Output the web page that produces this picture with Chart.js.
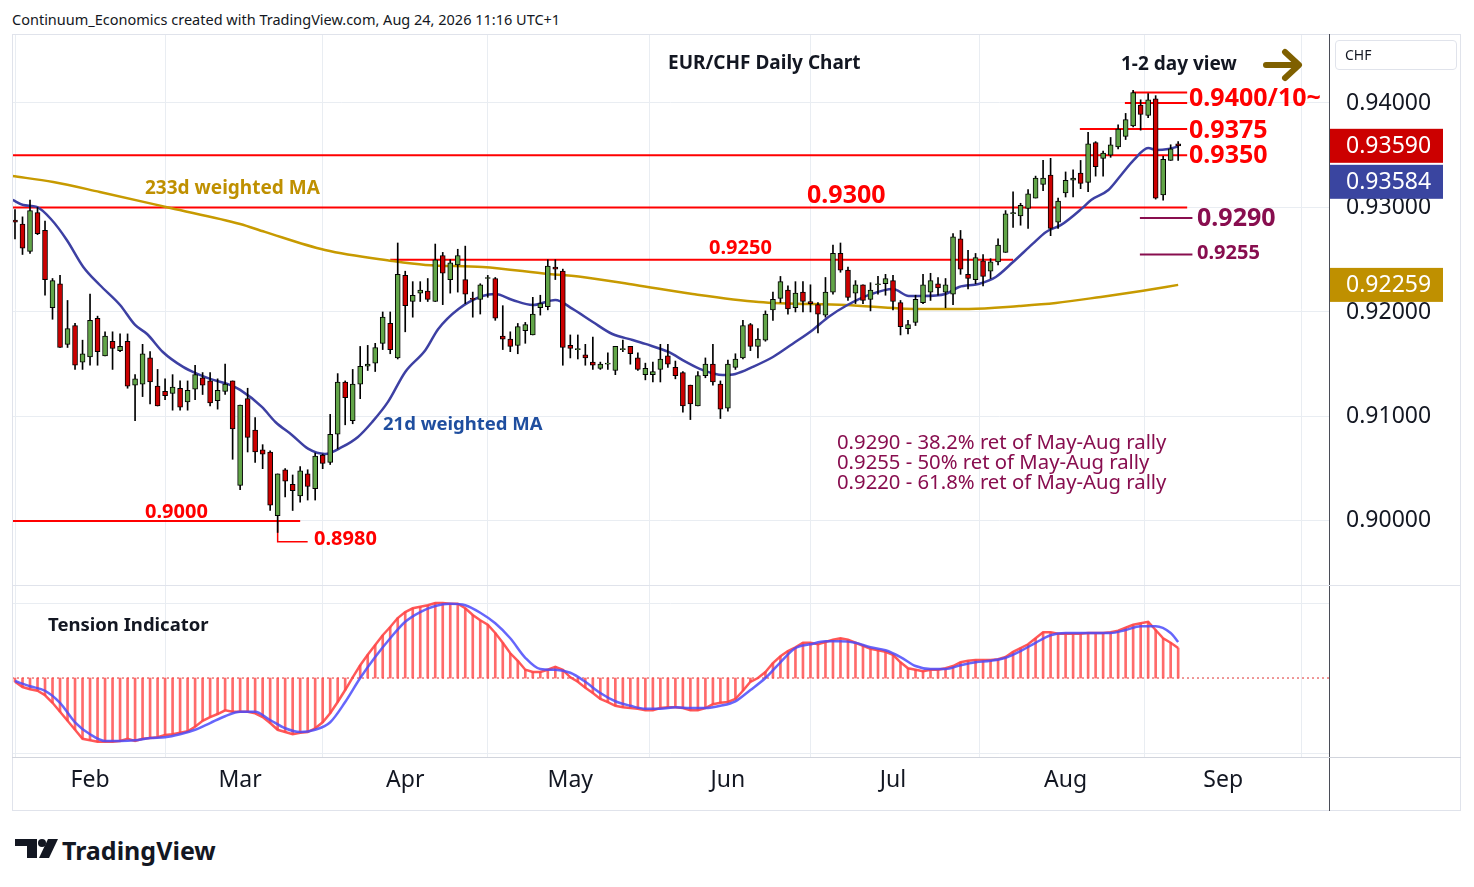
<!DOCTYPE html>
<html>
<head>
<meta charset="utf-8">
<script src="https://cdn.jsdelivr.net/npm/chart.js@4.4.1/dist/chart.umd.min.js"></script>
<style>
  body { margin: 0; background: #fff; width: 1474px; height: 887px; position: relative; overflow: hidden;
         font-family: "Noto Sans", sans-serif; color: #131722; }
  .t { position: absolute; white-space: nowrap; transform: translateY(-50%); line-height: 1; }
  .b { font-weight: bold; }
  .red { color: #f00; }
  .pur { color: #880e4f; }
  .ln { position: absolute; pointer-events: none; }
  #wrap1 { position: absolute; left: 12px; top: 34px; width: 1449px; height: 551px; }
  #wrap2 { position: absolute; left: 12px; top: 586px; width: 1449px; height: 224px; }
</style>
</head>
<body>
<div id="wrap1"><canvas id="price"></canvas></div>
<div id="wrap2"><canvas id="tension"></canvas></div>

<!-- frame -->
<div class="ln" style="left:12px;top:34px;width:1449px;height:777px;border:1px solid #e0e3eb;box-sizing:border-box"></div>
<div class="ln" style="left:1329px;top:34px;width:1px;height:777px;background:#4a4d57"></div>
<div class="ln" style="left:12px;top:585px;width:1449px;height:1px;background:#e0e3eb"></div>
<div class="ln" style="left:12px;top:757px;width:1449px;height:1px;background:#d1d4dc"></div>
<div class="ln" style="left:1335px;top:40px;width:122px;height:30px;border:1px solid #e0e3eb;border-radius:4px;box-sizing:border-box"></div>

<div class="t" style="left:12px;top:19px;font-size:14.5px">Continuum_Economics created with TradingView.com, Aug 24, 2026 11:16 UTC+1</div>
<div class="t" style="left:1345px;top:55px;font-size:14px">CHF</div>
<div class="t b" style="left:668px;top:62px;font-size:19px">EUR/CHF Daily Chart</div>
<div class="t b" style="left:1121px;top:63px;font-size:19px">1-2 day view</div>
<svg class="ln" style="left:1260px;top:45px" width="48" height="40">
  <path d="M6 20 H38 M25 7 L39 20 L25 33" stroke="#7f6000" stroke-width="6" fill="none" stroke-linecap="round" stroke-linejoin="round"/>
</svg>

<div class="t b red" style="left:1189px;top:96px;font-size:25px">0.9400/10~</div>
<div class="t b red" style="left:1189px;top:128px;font-size:25px">0.9375</div>
<div class="t b red" style="left:1189px;top:153px;font-size:25px">0.9350</div>
<div class="t b red" style="left:807px;top:193px;font-size:25px">0.9300</div>
<div class="t b pur" style="left:1197px;top:216px;font-size:25px">0.9290</div>
<div class="t b pur" style="left:1197px;top:252px;font-size:20px">0.9255</div>
<div class="t b red" style="left:709px;top:247px;font-size:20px">0.9250</div>
<div class="t b red" style="left:145px;top:511px;font-size:20px">0.9000</div>
<div class="t b red" style="left:314px;top:538px;font-size:20px">0.8980</div>
<div class="t b" style="left:145px;top:187px;font-size:19px;color:#bf9000">233d weighted MA</div>
<div class="t b" style="left:383px;top:423px;font-size:18.5px;color:#1f4e9f">21d weighted MA</div>
<div class="t pur" style="left:837px;top:441px;font-size:20.3px">0.9290 - 38.2% ret of May-Aug rally</div>
<div class="t pur" style="left:837px;top:461px;font-size:20.3px">0.9255 - 50% ret of May-Aug rally</div>
<div class="t pur" style="left:837px;top:481px;font-size:20.3px">0.9220 - 61.8% ret of May-Aug rally</div>
<div class="t b" style="left:48px;top:624px;font-size:18.5px">Tension Indicator</div>

<svg class="ln" style="left:0;top:830px" width="70" height="40">
  <path d="M15 9 H37 V28 H27 V16 H15 Z" fill="#131722"/>
  <circle cx="42" cy="13" r="4" fill="#131722"/>
  <path d="M48 9 H58 L49 28 H39 Z" fill="#131722"/>
</svg>
<div class="t b" style="left:62px;top:850px;font-size:25px">TradingView</div>

<script>
// trading-day index 0 = Jan 19 2026, last candle (155) = Aug 24 2026
const monthTicks = [10, 30, 52, 74, 95, 117, 140, 161];
const monthLabels = ['Feb', 'Mar', 'Apr', 'May', 'Jun', 'Jul', 'Aug', 'Sep'];
const priceTicks = [0.90, 0.91, 0.92, 0.93, 0.94];

const opens = [
  0.9288,0.9284,0.9258,0.9295,0.9278,0.9204,0.9227,0.9169,0.9187,0.9152,
  0.9157,0.9194,0.9158,0.9172,0.9163,0.9172,0.9130,0.9131,0.9156,0.9129,
  0.9124,0.9122,0.9127,0.9114,0.9126,0.9137,0.9134,0.9115,0.9124,0.9134,
  0.9034,0.9117,0.9087,0.9068,0.9066,0.9005,0.9049,0.9035,0.9024,0.9045,
  0.9031,0.9063,0.9056,0.9083,0.9133,0.9096,0.9131,0.9148,0.9151,0.9170,
  0.9189,0.9156,0.9235,0.9210,0.9218,0.9220,0.9210,0.9254,0.9231,0.9245,
  0.9231,0.9213,0.9212,0.9232,0.9232,0.9177,0.9174,0.9168,0.9182,0.9178,
  0.9204,0.9205,0.9243,0.9239,0.9168,0.9164,0.9159,0.9152,0.9146,0.9150,
  0.9144,0.9164,0.9167,0.9156,0.9140,0.9140,0.9145,0.9158,0.9147,0.9142,
  0.9130,0.9110,0.9139,0.9150,0.9131,0.9108,0.9147,0.9156,0.9188,0.9167,
  0.9173,0.9202,0.9213,0.9221,0.9204,0.9219,0.9210,0.9207,0.9197,0.9219,
  0.9256,0.9240,0.9218,0.9226,0.9212,0.9226,0.9227,0.9230,0.9209,0.9184,
  0.9190,0.9209,0.9219,0.9227,0.9219,0.9217,0.9270,0.9236,0.9231,0.9249,
  0.9239,0.9248,0.9257,0.9294,0.9292,0.9299,0.9309,0.9322,0.9331,0.9286,
  0.9314,0.9326,0.9333,0.9324,0.9362,0.9347,0.9350,0.9358,0.9368,0.9378,
  0.9398,0.9388,0.9404,0.9312,0.9345,0.9361
];
const highs = [
  0.9298,0.9291,0.9307,0.9300,0.9287,0.9232,0.9235,0.9211,0.9189,0.9173,
  0.9217,0.9196,0.9181,0.9181,0.9179,0.9179,0.9140,0.9169,0.9162,0.9145,
  0.9136,0.9140,0.9134,0.9134,0.9149,0.9142,0.9142,0.9136,0.9150,0.9134,
  0.9111,0.9127,0.9099,0.9073,0.9067,0.9045,0.9050,0.9044,0.9052,0.9049,
  0.9065,0.9064,0.9102,0.9141,0.9134,0.9145,0.9167,0.9168,0.9170,0.9200,
  0.9200,0.9266,0.9239,0.9229,0.9229,0.9232,0.9265,0.9257,0.9250,0.9260,
  0.9263,0.9219,0.9227,0.9235,0.9233,0.9206,0.9181,0.9189,0.9190,0.9214,
  0.9216,0.9250,0.9250,0.9241,0.9178,0.9178,0.9169,0.9176,0.9152,0.9161,
  0.9167,0.9173,0.9167,0.9161,0.9151,0.9152,0.9169,0.9169,0.9153,0.9143,
  0.9130,0.9143,0.9156,0.9169,0.9134,0.9154,0.9160,0.9192,0.9189,0.9184,
  0.9201,0.9219,0.9234,0.9225,0.9229,0.9229,0.9226,0.9209,0.9233,0.9264,
  0.9266,0.9243,0.9230,0.9226,0.9228,0.9234,0.9236,0.9235,0.9211,0.9192,
  0.9216,0.9236,0.9237,0.9233,0.9232,0.9275,0.9278,0.9259,0.9256,0.9255,
  0.9251,0.9270,0.9297,0.9315,0.9304,0.9317,0.9330,0.9345,0.9347,0.9309,
  0.9334,0.9336,0.9345,0.9372,0.9363,0.9354,0.9367,0.9379,0.9390,0.9412,
  0.9403,0.9409,0.9407,0.9349,0.9360,0.9363
];
const lows = [
  0.9270,0.9255,0.9256,0.9274,0.9216,0.9193,0.9166,0.9166,0.9145,0.9145,
  0.9149,0.9149,0.9158,0.9145,0.9162,0.9127,0.9096,0.9119,0.9112,0.9110,
  0.9116,0.9106,0.9106,0.9106,0.9116,0.9121,0.9110,0.9107,0.9121,0.9059,
  0.9030,0.9066,0.9056,0.9050,0.9010,0.8989,0.9023,0.9010,0.9018,0.9020,
  0.9020,0.9050,0.9054,0.9069,0.9092,0.9093,0.9117,0.9144,0.9143,0.9164,
  0.9160,0.9155,0.9181,0.9195,0.9210,0.9210,0.9210,0.9207,0.9218,0.9219,
  0.9208,0.9195,0.9198,0.9214,0.9192,0.9164,0.9162,0.9160,0.9170,0.9178,
  0.9197,0.9202,0.9231,0.9149,0.9156,0.9155,0.9149,0.9145,0.9145,0.9145,
  0.9140,0.9162,0.9150,0.9144,0.9135,0.9133,0.9133,0.9147,0.9136,0.9104,
  0.9097,0.9110,0.9137,0.9130,0.9098,0.9105,0.9145,0.9155,0.9163,0.9156,
  0.9172,0.9192,0.9209,0.9198,0.9200,0.9200,0.9200,0.9180,0.9195,0.9217,
  0.9238,0.9211,0.9208,0.9208,0.9201,0.9217,0.9216,0.9202,0.9178,0.9179,
  0.9187,0.9208,0.9211,0.9216,0.9204,0.9207,0.9236,0.9222,0.9227,0.9225,
  0.9232,0.9245,0.9257,0.9281,0.9283,0.9280,0.9309,0.9316,0.9273,0.9280,
  0.9310,0.9310,0.9318,0.9315,0.9330,0.9330,0.9348,0.9356,0.9365,0.9377,
  0.9374,0.9386,0.9308,0.9307,0.9345,0.9345
];
const closes = [
  0.9286,0.9261,0.9297,0.9275,0.9231,0.9230,0.9166,0.9184,0.9149,0.9160,
  0.9192,0.9162,0.9177,0.9165,0.9167,0.9129,0.9136,0.9160,0.9133,0.9110,
  0.9120,0.9128,0.9109,0.9125,0.9140,0.9130,0.9113,0.9125,0.9131,0.9088,
  0.9111,0.9080,0.9066,0.9064,0.9015,0.9045,0.9038,0.9029,0.9048,0.9033,
  0.9062,0.9055,0.9083,0.9133,0.9118,0.9131,0.9148,0.9150,0.9166,0.9195,
  0.9164,0.9236,0.9206,0.9216,0.9221,0.9212,0.9250,0.9237,0.9247,0.9254,
  0.9217,0.9212,0.9226,0.9233,0.9194,0.9174,0.9167,0.9186,0.9188,0.9198,
  0.9208,0.9244,0.9241,0.9166,0.9165,0.9165,0.9156,0.9149,0.9150,0.9151,
  0.9167,0.9165,0.9160,0.9145,0.9146,0.9143,0.9155,0.9150,0.9139,0.9110,
  0.9112,0.9139,0.9150,0.9133,0.9107,0.9150,0.9155,0.9187,0.9167,0.9174,
  0.9198,0.9212,0.9229,0.9203,0.9218,0.9210,0.9208,0.9198,0.9219,0.9256,
  0.9240,0.9214,0.9226,0.9211,0.9221,0.9227,0.9232,0.9210,0.9186,0.9188,
  0.9212,0.9226,0.9230,0.9223,0.9226,0.9272,0.9241,0.9232,0.9252,0.9234,
  0.9248,0.9264,0.9294,0.9295,0.9302,0.9313,0.9328,0.9328,0.9280,0.9306,
  0.9326,0.9328,0.9323,0.9361,0.9339,0.9352,0.9360,0.9375,0.9384,0.9410,
  0.9389,0.9403,0.9309,0.9346,0.9356,0.9359
];

// 21d weighted MA
const wma21Idx = [-0.3,1.1,2.9,4.9,6.9,9.1,11.3,14.0,16.0,17.6,19.7,22.4,24.3,26.0,28.3,30.0,32.9,34.7,36.9,39.1,
  41.3,43.6,45.7,47.6,49.7,52.0,54.7,56.4,59.1,62.3,64.0,66.3,69.0,72.0,74.3,77.0,79.6,82.3,84.0,87.1,
  89.4,91.6,94.3,96.0,98.3,101.0,103.6,106.3,108.4,110.7,113.8,117.0,119.1,121.0,124.0,125.8,128.4,130.7,133.0,135.6,
  137.4,139.4,142.1,143.4,145.7,147.4,149.1,151.0,152.1,153.7,155.0];
const wma21Val = [0.93072,0.93024,0.93005,0.92880,0.92689,0.92431,0.92258,0.92067,0.91876,0.91789,
  0.91617,0.91474,0.91407,0.91359,0.91311,0.91254,0.91091,0.90947,0.90823,0.90689,
  0.90641,0.90708,0.90804,0.90947,0.91139,0.91426,0.91636,0.91837,0.92029,0.92153,
  0.92172,0.92115,0.92067,0.92115,0.92029,0.91904,0.91789,0.91732,0.91694,0.91617,
  0.91522,0.91445,0.91397,0.91407,0.91474,0.91569,0.91694,0.91828,0.91952,0.92057,
  0.92163,0.92220,0.92153,0.92153,0.92172,0.92239,0.92268,0.92335,0.92478,0.92651,
  0.92766,0.92833,0.92986,0.93072,0.93167,0.93311,0.93455,0.93569,0.93550,0.93560,0.93584];

// 233d weighted MA
const wma233Idx = [-0.4,5.1,11.3,20.7,30.0,33.3,41.3,50.3,54.7,62.3,71.1,75.6,82.7,90.3,99.1,110.7,120.4,127.1,133.8,138.7,144.7,150.1,155.0];
const wma233Val = [0.93301,0.93244,0.93148,0.92995,0.92842,0.92766,0.92593,0.92488,0.92450,0.92431,0.92364,0.92335,
  0.92258,0.92172,0.92096,0.92067,0.92029,0.92029,0.92057,0.92086,0.92144,0.92201,0.92259];

// support / resistance levels
const levelPrices = [0.9410, 0.9400, 0.9375, 0.9350, 0.9300, 0.9250, 0.9000];
const levelFrom   = [148.9, 147.9, 141.9, -0.4, -0.4, 50.0, -0.4];
const levelTo     = [156.2, 156.2, 156.2, 156.2, 156.2, 133.0, 38.0];
const retracePrices = [0.9290, 0.9255];
const retraceFrom = 149.9, retraceTo = 156.9;
const lowMark = 0.8980, lowMarkFrom = 35.0, lowMarkTo = 39.0;

// tension indicator
const tensionRed = [
  -0.05,-0.12,-0.15,-0.17,-0.23,-0.33,-0.45,-0.57,-0.69,-0.81,
  -0.83,-0.85,-0.85,-0.85,-0.84,-0.81,-0.84,-0.81,-0.80,-0.79,
  -0.76,-0.75,-0.73,-0.71,-0.65,-0.57,-0.52,-0.48,-0.43,-0.45,
  -0.45,-0.45,-0.47,-0.52,-0.60,-0.69,-0.72,-0.75,-0.73,-0.72,
  -0.67,-0.59,-0.47,-0.32,-0.16,0.01,0.17,0.31,0.44,0.57,
  0.68,0.80,0.88,0.93,0.95,0.97,1.00,1.00,0.99,0.99,
  0.93,0.84,0.77,0.71,0.60,0.47,0.33,0.23,0.11,0.08,
  0.08,0.11,0.15,0.11,0.01,-0.05,-0.13,-0.20,-0.28,-0.32,
  -0.37,-0.39,-0.40,-0.41,-0.43,-0.43,-0.40,-0.39,-0.39,-0.40,
  -0.43,-0.43,-0.40,-0.35,-0.33,-0.32,-0.28,-0.17,-0.05,0.00,
  0.08,0.20,0.29,0.36,0.41,0.47,0.47,0.45,0.48,0.51,
  0.53,0.51,0.47,0.43,0.39,0.37,0.35,0.31,0.21,0.13,
  0.11,0.09,0.11,0.11,0.13,0.16,0.21,0.23,0.24,0.24,
  0.24,0.25,0.28,0.35,0.40,0.45,0.53,0.61,0.61,0.59,
  0.59,0.59,0.59,0.60,0.60,0.60,0.61,0.63,0.67,0.71,
  0.73,0.75,0.64,0.53,0.47,0.40
];
const tensionBlueIdx = [0,2,4,6,8,10,12,14,16,18,20,22,24,26,28,30,32,34,36,38,40,42,44,46,48,50,52,54,56,58,
  60,62,64,66,68,70,72,74,76,78,80,82,84,86,88,90,92,94,96,98,100,102,104,106,108,110,112,114,116,118,
  120,122,124,126,128,130,132,134,136,138,140,142,144,146,148,150,152,154,155];
const tensionBlue = [-0.04,-0.11,-0.17,-0.33,-0.59,-0.75,-0.84,-0.84,-0.83,-0.80,-0.79,-0.75,-0.69,-0.60,-0.51,-0.45,-0.45,-0.56,-0.67,-0.72,
  -0.69,-0.59,-0.32,0.00,0.28,0.53,0.75,0.88,0.96,0.99,0.97,0.87,0.73,0.53,0.27,0.12,0.11,0.07,-0.05,-0.20,
  -0.31,-0.37,-0.41,-0.41,-0.39,-0.40,-0.40,-0.37,-0.31,-0.16,0.00,0.21,0.40,0.45,0.49,0.49,0.47,0.41,0.37,0.28,
  0.16,0.12,0.12,0.17,0.21,0.23,0.27,0.36,0.47,0.57,0.60,0.60,0.60,0.60,0.64,0.69,0.69,0.60,0.48];

const X_MIN = -0.4, X_MAX = 175.1;
const GRID = '#e9edf2';
const UP = '#62a548', DOWN = '#cc0000';

const days = closes.map((c, i) => i);
const monthGrid = s => { s.ticks = monthTicks.map(v => ({ value: v })); };

function levelSet(price, from, to, color) {
  return { type: 'line', data: [{ x: from, y: price }, { x: to, y: price }], borderColor: color,
           borderWidth: 2, pointRadius: 0, order: 6 };
}

const priceSets = [
  ...levelPrices.map((p, i) => levelSet(p, levelFrom[i], levelTo[i], '#ff0000')),
  ...retracePrices.map(p => levelSet(p, retraceFrom, retraceTo, '#880e4f')),
  { type: 'line', data: [{ x: lowMarkFrom, y: levelPrices[6] }, { x: lowMarkFrom, y: lowMark }, { x: lowMarkTo, y: lowMark }],
    borderColor: '#ff0000', borderWidth: 1.5, pointRadius: 0, order: 6 },
  { type: 'line', data: wma233Idx.map((x, i) => ({ x, y: wma233Val[i] })), borderColor: '#c79a00',
    borderWidth: 2.5, pointRadius: 0, cubicInterpolationMode: 'monotone', order: 5 },
  { type: 'line', data: wma21Idx.map((x, i) => ({ x, y: wma21Val[i] })), borderColor: '#3d40a3',
    borderWidth: 2.5, pointRadius: 0, cubicInterpolationMode: 'monotone', order: 4 },
  // wicks
  { type: 'bar', data: days.map(i => ({ x: i, y: [lows[i], highs[i]] })), backgroundColor: '#000',
    barThickness: 1, grouped: false, order: 3 },
  // bodies
  { type: 'bar', data: days.map(i => ({ x: i, y: [opens[i], closes[i]] })),
    backgroundColor: days.map(i => closes[i] >= opens[i] ? UP : DOWN),
    borderColor: '#000', borderWidth: 1, borderSkipped: false, barThickness: 5, grouped: false, order: 2 }
];

const priceTags = {
  id: 'priceTags',
  afterDraw(chart) {
    const { ctx, chartArea, scales: { y } } = chart;
    const last = closes[closes.length - 1];
    const redY = y.getPixelForValue(last);
    const tags = [
      [redY, '#cc0000', last.toFixed(5)],
      [redY + 36, '#3a45a0', wma21Val[wma21Val.length - 1].toFixed(5)],
      [y.getPixelForValue(wma233Val[wma233Val.length - 1]), '#bf9000', wma233Val[wma233Val.length - 1].toFixed(5)]
    ];
    ctx.save();
    tags.forEach(([cy, bg, txt]) => {
      ctx.fillStyle = bg;
      ctx.fillRect(chartArea.right, cy - 17, 114, 34);
      ctx.fillStyle = '#fff';
      ctx.font = '23px "Noto Sans"';
      ctx.textBaseline = 'middle';
      ctx.textAlign = 'left';
      ctx.fillText(txt, chartArea.right + 17, cy + 1);
    });
    ctx.restore();
  }
};

Chart.defaults.font.family = '"Noto Sans", sans-serif';
Chart.defaults.color = '#131722';

new Chart(document.getElementById('price'), {
  data: { datasets: priceSets },
  options: {
    responsive: true, maintainAspectRatio: false, animation: false,
    layout: { padding: 0 },
    plugins: { legend: { display: false }, tooltip: { enabled: false } },
    scales: {
      x: { type: 'linear', min: X_MIN, max: X_MAX, offset: false,
           afterBuildTicks: monthGrid,
           afterFit: s => { s.height = 0; s.paddingLeft = 0; s.paddingRight = 0; },
           ticks: { display: false }, grid: { color: GRID, drawTicks: false }, border: { display: false } },
      y: { type: 'linear', position: 'right', min: 0.89387, max: 0.94660,
           afterBuildTicks: s => { s.ticks = priceTicks.map(v => ({ value: v })); },
           afterFit: s => { s.width = 132; s.paddingTop = 0; s.paddingBottom = 0; },
           ticks: { padding: 17, font: { size: 23 }, color: '#131722', callback: v => v.toFixed(5) },
           grid: { color: GRID, drawTicks: false }, border: { display: false } }
    }
  },
  plugins: [priceTags]
});

new Chart(document.getElementById('tension'), {
  data: {
    datasets: [
      { type: 'line', data: [{ x: X_MIN, y: 0 }, { x: X_MAX, y: 0 }], borderColor: '#e03030',
        borderWidth: 1, borderDash: [2, 3], pointRadius: 0, order: 4 },
      { type: 'bar', data: days.map(i => ({ x: i, y: tensionRed[i] })), backgroundColor: 'rgba(255,70,70,0.8)',
        barThickness: 2, grouped: false, order: 3 },
      { type: 'line', data: days.map(i => ({ x: i, y: tensionRed[i] })), borderColor: 'rgba(255,70,70,0.9)',
        borderWidth: 2.5, pointRadius: 0, order: 2 },
      { type: 'line', data: tensionBlueIdx.map((x, i) => ({ x, y: tensionBlue[i] })), borderColor: 'rgba(75,75,250,0.85)',
        borderWidth: 2.5, pointRadius: 0, cubicInterpolationMode: 'monotone', order: 1 }
    ]
  },
  options: {
    responsive: true, maintainAspectRatio: false, animation: false,
    layout: { padding: 0 },
    plugins: { legend: { display: false }, tooltip: { enabled: false } },
    scales: {
      x: { type: 'linear', min: X_MIN, max: X_MAX, offset: false,
           afterBuildTicks: monthGrid, afterFit: s => { s.height = 53; },
           ticks: { autoSkip: false, maxRotation: 0, padding: 10, font: { size: 23 }, color: '#131722',
                    callback: (v, i) => monthLabels[i] },
           grid: { color: GRID, drawTicks: false }, border: { display: false } },
      y: { type: 'linear', position: 'right', min: -1.053, max: 1.227,
           afterBuildTicks: s => { s.ticks = [{ value: -1 }, { value: 1 }]; },
           afterFit: s => { s.width = 132; },
           ticks: { display: false }, grid: { color: GRID, drawTicks: false }, border: { display: false } }
    }
  }
});
</script>
</body>
</html>
